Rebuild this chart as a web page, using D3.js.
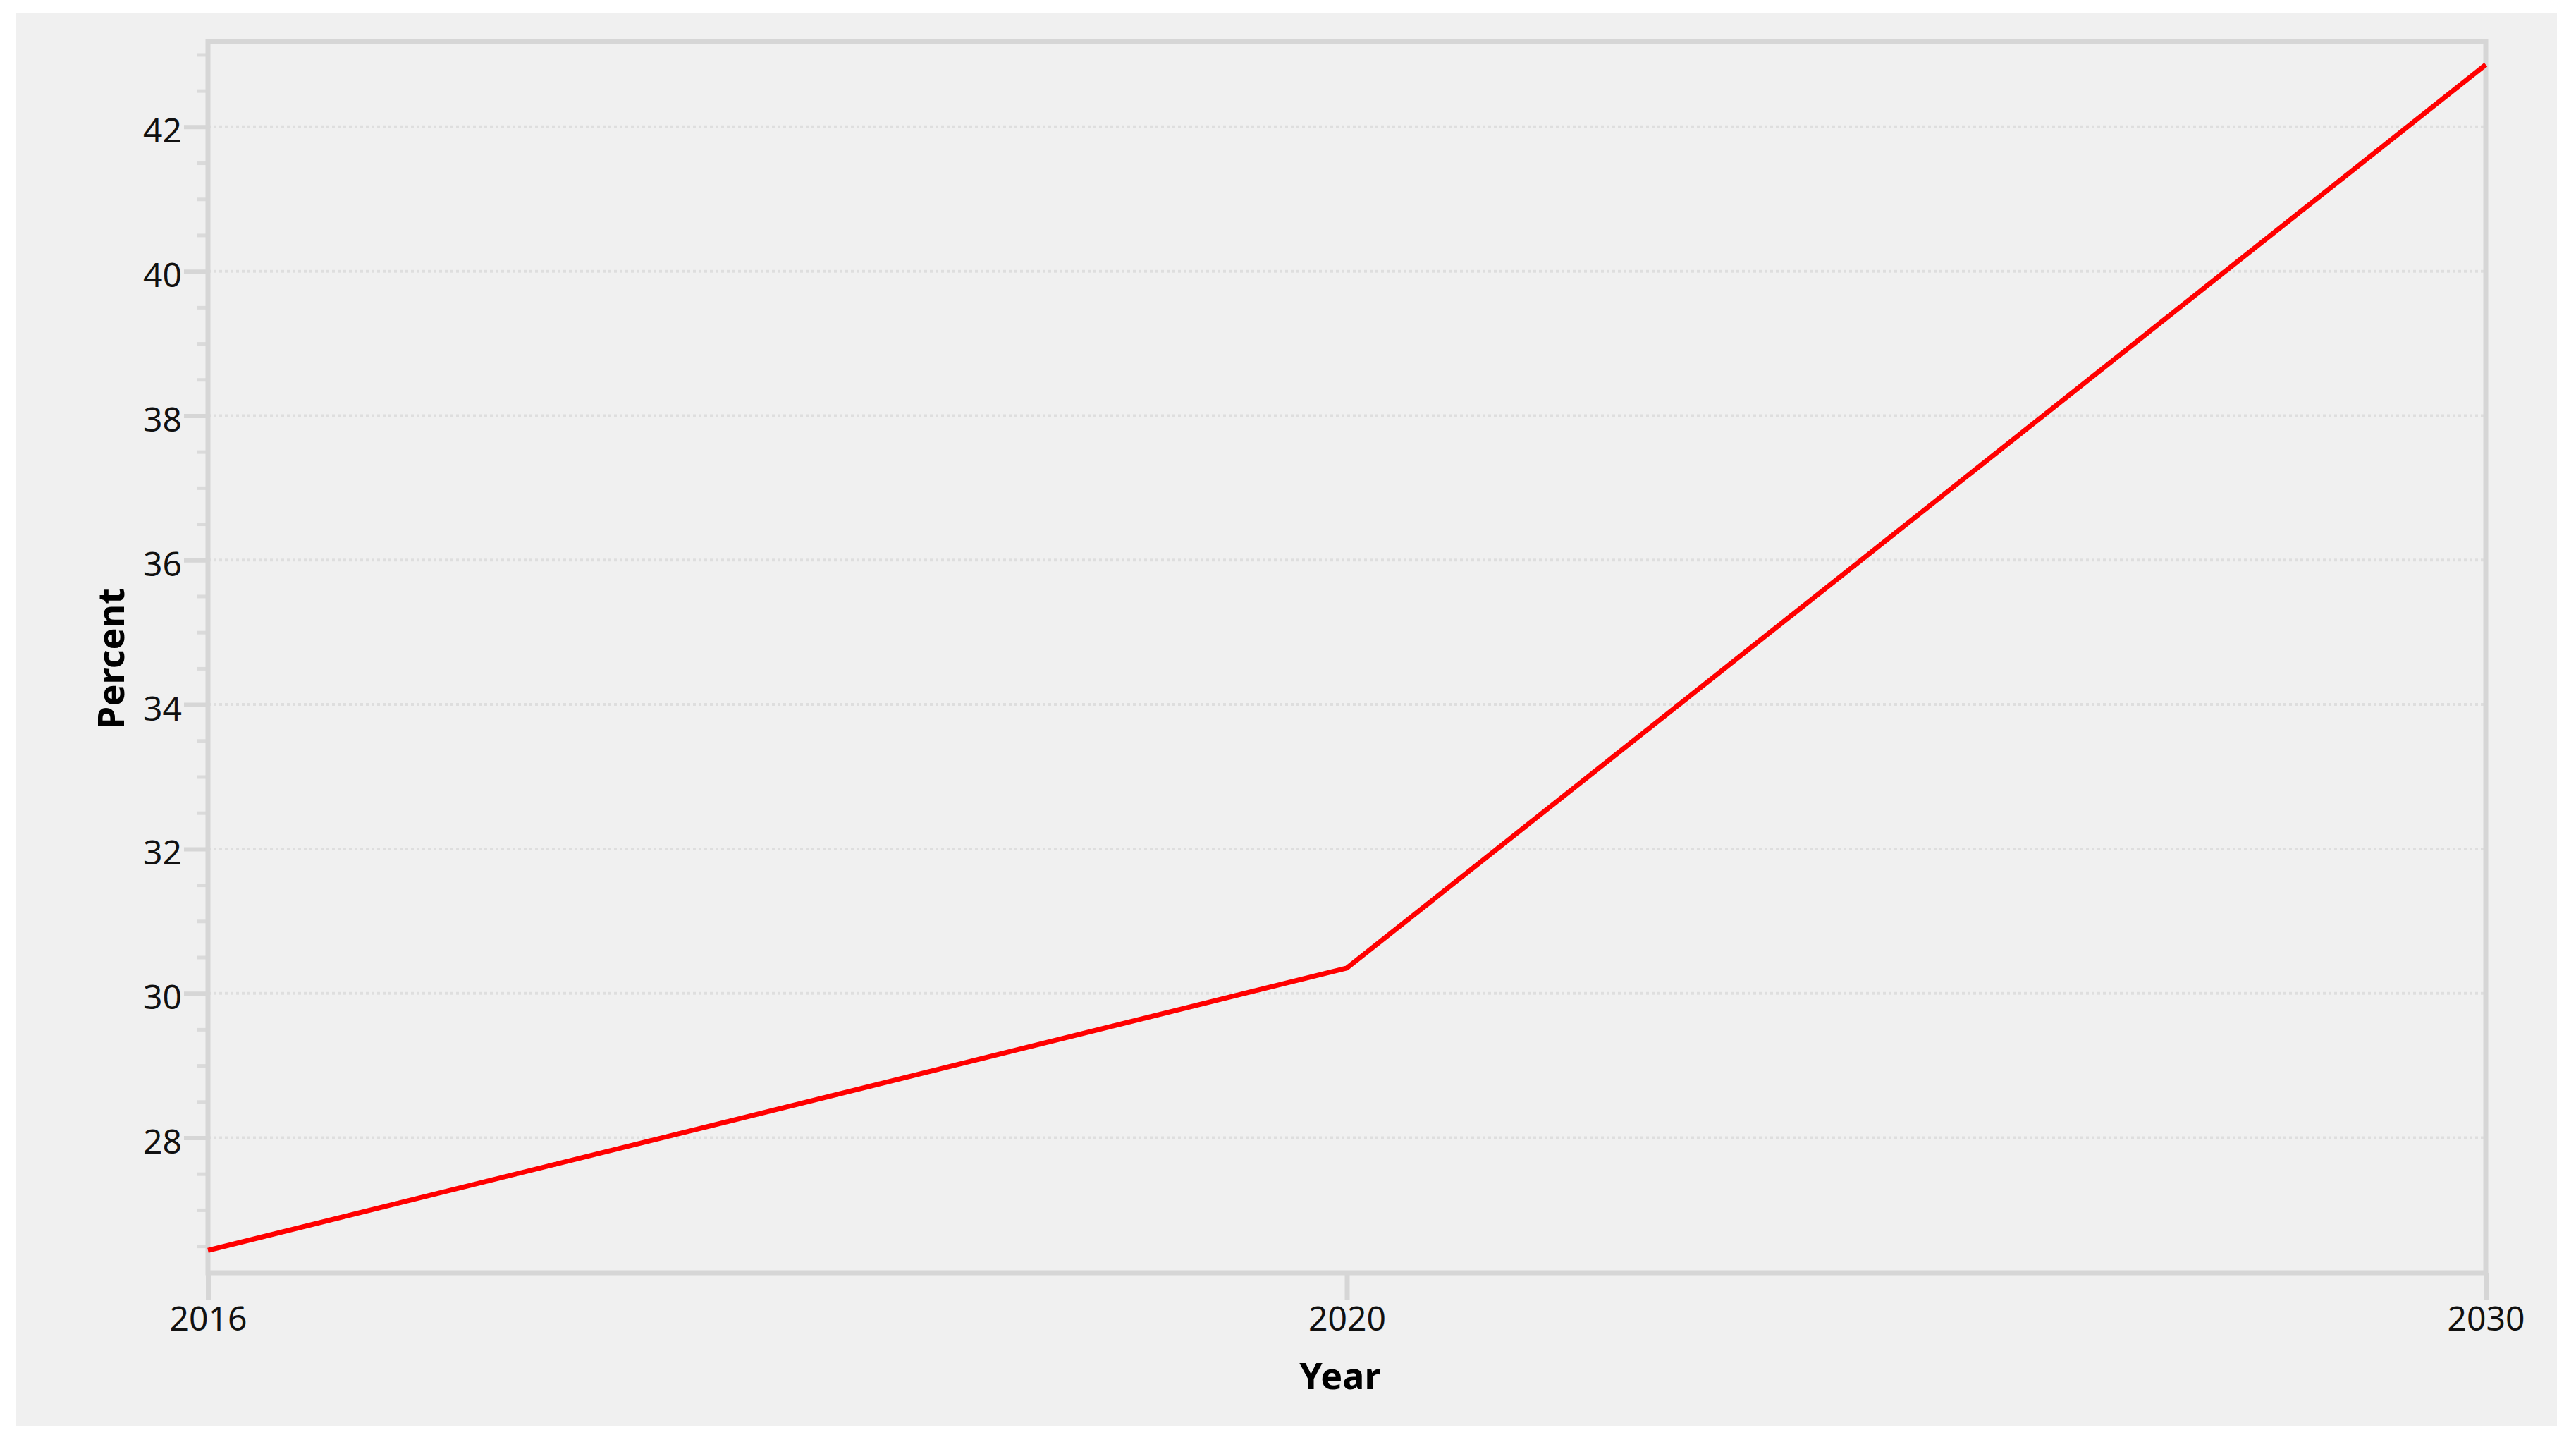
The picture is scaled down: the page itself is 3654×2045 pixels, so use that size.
<!DOCTYPE html>
<html>
<head>
<meta charset="utf-8">
<script src="https://cdn.jsdelivr.net/npm/d3@7.9.0/dist/d3.min.js"></script>
<style>
  body { margin: 0; background: #ffffff; }
  svg { display: block; }
  .tick text { font-family: "Noto Sans", "Open Sans", sans-serif; fill: #111; }
  .axis-title { font-family: "Noto Sans", sans-serif; font-weight: bold; fill: #000; }
</style>
</head>
<body>
<svg id="chart"></svg>
<script>
// data
const years = ['2016', '2020', '2030'];
const percent = [26.44, 30.35, 42.86];
const yTicks = [28, 30, 32, 34, 36, 38, 40, 42];

const W = 3654, H = 2045;
// plot box (the grey frame)
const plotLeft = 295, plotRight = 3526, plotTop = 59, plotBottom = 1805;

const svg = d3.select('#chart').attr('width', W).attr('height', H);

// light grey panel behind everything
svg.append('rect')
    .attr('x', 22).attr('y', 19)
    .attr('width', 3605).attr('height', 2003)
    .attr('fill', '#f0f0f0');

let x = d3.scalePoint().domain(years).range([plotLeft, plotRight]);
let y = d3.scaleLinear().domain([26.13, 43.18]).range([plotBottom, plotTop]);

// dotted gridlines on the major ticks
svg.append('g')
    .selectAll('line')
    .data(yTicks)
    .join('line')
    .attr('x1', plotLeft).attr('x2', plotRight)
    .attr('y1', d => y(d)).attr('y2', d => y(d))
    .attr('stroke', '#dedede')
    .attr('stroke-width', 4)
    .attr('stroke-dasharray', '4,4');

// minor ticks every 0.5
let minor = d3.range(26.5, 43.01, 0.5).filter(v => v % 2 !== 0);
svg.append('g')
    .attr('transform', `translate(${plotLeft},0)`)
    .call(d3.axisLeft(y).tickValues(minor).tickSize(15).tickFormat(''))
    .call(g => g.select('.domain').remove())
    .call(g => g.selectAll('.tick line').attr('stroke', '#dadada').attr('stroke-width', 5));

// y axis
svg.append('g')
    .attr('transform', `translate(${plotLeft},0)`)
    .call(d3.axisLeft(y).tickValues(yTicks).tickSize(34).tickPadding(3).tickSizeOuter(0))
    .call(g => g.select('.domain').remove())
    .call(g => g.selectAll('.tick line').attr('stroke', '#d6d6d6').attr('stroke-width', 6))
    .call(g => g.selectAll('.tick text').attr('font-size', 48).attr('dy', '0.46em'));

// x axis
svg.append('g')
    .attr('transform', `translate(0,${plotBottom})`)
    .call(d3.axisBottom(x).tickSize(38).tickPadding(10).tickSizeOuter(0))
    .call(g => g.select('.domain').remove())
    .call(g => g.selectAll('.tick line').attr('stroke', '#d6d6d6').attr('stroke-width', 7))
    .call(g => g.selectAll('.tick text').attr('font-size', 48));

// frame: left, bottom, top, right
svg.append('rect')
    .attr('x', plotLeft).attr('y', plotTop)
    .attr('width', plotRight - plotLeft).attr('height', plotBottom - plotTop)
    .attr('fill', 'none')
    .attr('stroke', '#d6d6d6')
    .attr('stroke-width', 7);

// the red line
let line = d3.line()
    .x((d, i) => x(years[i]))
    .y(d => y(d));

svg.append('path')
    .datum(percent)
    .attr('d', line)
    .attr('fill', 'none')
    .attr('stroke', '#ff0000')
    .attr('stroke-width', 7)
    .attr('stroke-linejoin', 'round');

// axis titles
svg.append('text')
    .attr('class', 'axis-title')
    .attr('x', 1901)
    .attr('y', 1970)
    .attr('text-anchor', 'middle')
    .attr('font-size', 52)
    .text('Year');

svg.append('text')
    .attr('class', 'axis-title')
    .attr('transform', `translate(176,934) rotate(-90)`)
    .attr('text-anchor', 'middle')
    .attr('font-size', 52)
    .text('Percent');
</script>
</body>
</html>
